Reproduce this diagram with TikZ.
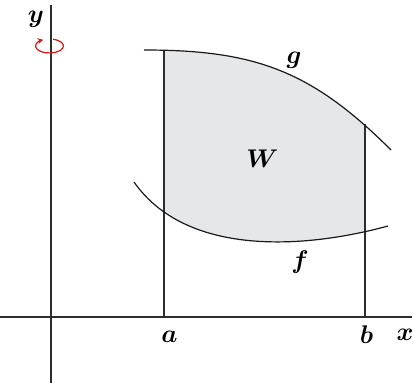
\documentclass[tikz,border=0pt]{standalone}
\usepackage{graphicx}
\usetikzlibrary{arrows.meta,calc}
\definecolor{regionfill}{RGB}{230,231,233}
\definecolor{rotred}{RGB}{228,20,20}
\definecolor{darkline}{RGB}{45,45,45}
\newcommand{\biglbl}[1]{\scalebox{1.48}{\fontsize{17.28}{20}\selectfont\boldmath$#1$}}
\tikzset{
  axis/.style={line width=1.1pt, draw=darkline},
  curve/.style={line width=1.2pt, draw=black!90},
  bound/.style={line width=1.4pt, draw=darkline},
  lbl/.style={inner sep=0pt},
}
\begin{document}
\begin{tikzpicture}[x=1pt,y=-1pt]
\useasboundingbox (0,0) rectangle (413,383);
% key points
\coordinate (g0) at (144,50);
\coordinate (g1) at (391,150);
\coordinate (f0) at (134,182);
\coordinate (f1) at (388,226);
\coordinate (yb) at (51,383);
\coordinate (yt) at (51,5);
\coordinate (xl) at (0,317);
\coordinate (xr) at (412,317);
\coordinate (aTop) at (164,50.5);
\coordinate (aBot) at (164,317);
\coordinate (bTop) at (365,124);
\coordinate (bBot) at (365,317);
% fill region
\begin{scope}
  \clip (164,0) rectangle (365,383);
  \fill[regionfill] (g0) .. controls (254,50) and (311,70) .. (g1)
     -- (f1) .. controls (300,250) and (185,255) .. (f0) -- cycle;
\end{scope}
% axes
\draw[axis] (yb) -- (yt);
\draw[axis] (xl) -- (xr);
% vertical bounds
\draw[bound] (aBot) -- (aTop);
\draw[bound] (bBot) -- (bTop);
% curves
\draw[curve] (g0) .. controls (254,50) and (311,70) .. (g1);
\draw[curve] (f0) .. controls (185,255) and (300,250) .. (f1);
% rotation arrow
\coordinate (rc) at (49.5,46);
\coordinate (rs) at ($(rc)+({14*cos(-75)},{7*sin(-75)})$);
\draw[rotred, line width=1.2pt, -{Stealth[length=5.5pt,width=6pt]}]
  (rs) arc[start angle=-75, end angle=243, x radius=14, y radius=7];
% labels
\node[lbl] (ly) at (36,19.5) {\biglbl{y}};
\node[lbl] (la) at (169.5,337) {\biglbl{a}};
\node[lbl] (lb) at (366.5,335) {\biglbl{b}};
\node[lbl] (lx) at (405,335) {\biglbl{x}};
\node[lbl] (lg) at (294,60) {\biglbl{g}};
\node[lbl] (lW) at (262.5,159) {\biglbl{W}};
\node[lbl] (lf) at (300,262.5) {\biglbl{f}};
\end{tikzpicture}
\end{document}
